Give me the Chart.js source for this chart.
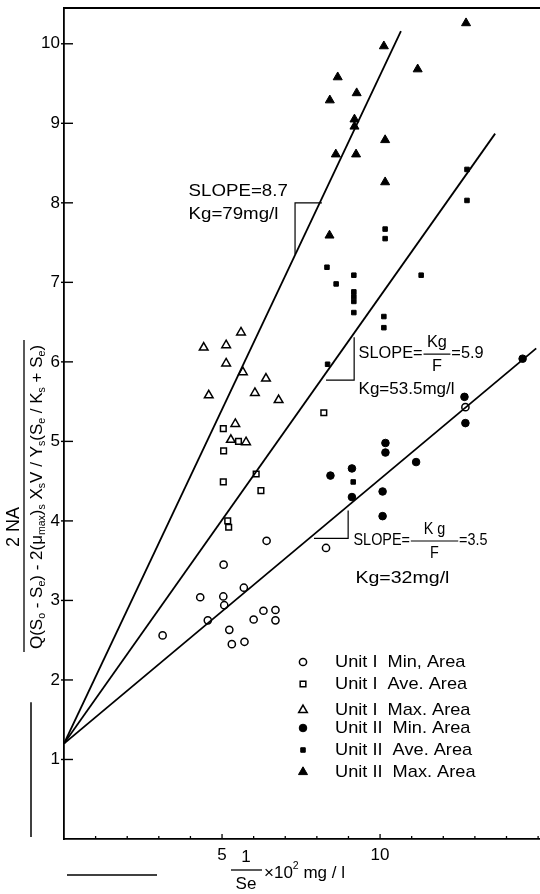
<!DOCTYPE html>
<html><head><meta charset="utf-8">
<script src="https://cdn.jsdelivr.net/npm/chart.js@4.4.1/dist/chart.umd.min.js"></script>
<style>html,body{margin:0;padding:0;background:#fff}#wrap{width:540px;height:894px;position:relative}</style>
</head><body><div id="wrap"><canvas id="c"></canvas></div>
<script>
// ---- data ----
const xTickLabels = [5, 10];
const yTickLabels = [1, 2, 3, 4, 5, 6, 7, 8, 9, 10];

const u1MinX = [6.41, 5.05, 5.69, 4.31, 5.04, 5.07, 6.31, 6.69, 6.00, 6.69, 4.55, 5.23, 5.71, 5.31, 3.12, 8.29, 12.70];
const u1MinY = [3.75, 3.45, 3.16, 3.04, 3.05, 2.94, 2.87, 2.88, 2.76, 2.75, 2.75, 2.63, 2.48, 2.45, 2.56, 3.66, 5.43];

const u1AveX = [5.04, 5.52, 5.05, 6.08, 5.04, 6.23, 5.18, 5.21, 8.22];
const u1AveY = [5.16, 5.00, 4.88, 4.59, 4.49, 4.38, 4.00, 3.92, 5.36];

const u1MaxX = [5.60, 4.42, 5.13, 5.13, 5.66, 6.39, 4.58, 6.04, 6.79, 5.42, 5.28, 5.76];
const u1MaxY = [6.37, 6.18, 6.21, 5.98, 5.87, 5.79, 5.58, 5.61, 5.52, 5.22, 5.02, 4.99];

const u2MinX = [12.67, 12.70, 10.17, 10.17, 11.14, 9.11, 8.43, 9.11, 10.08, 10.08, 14.51];
const u2MinY = [5.56, 5.23, 4.98, 4.86, 4.74, 4.66, 4.57, 4.30, 4.37, 4.06, 6.04];

const u2AveX = [8.32, 9.17, 8.61, 9.17, 9.17, 9.17, 9.17, 10.12, 10.12, 11.30, 8.34, 10.16, 10.16, 12.75, 12.75, 9.15];
const u2AveY = [7.19, 7.09, 6.98, 6.88, 6.82, 6.76, 6.62, 6.57, 6.43, 7.09, 5.97, 7.67, 7.55, 8.42, 8.03, 4.49];

const u2MaxX = [10.12, 8.66, 9.26, 8.41, 9.19, 9.19, 10.16, 8.60, 9.24, 10.16, 8.40, 11.19, 12.72];
const u2MaxY = [9.97, 9.58, 9.38, 9.29, 9.05, 8.96, 8.79, 8.61, 8.61, 8.26, 7.59, 9.68, 10.26];

const fitIntercept = 1.2;
const fitEndX = [10.66, 13.64, 14.94];
const fitEndY = [10.16, 8.87, 6.17];

const triX = [[8.16, 7.31, 7.31], [8.29, 9.18, 9.18], [7.91, 8.99, 8.99]];
const triY = [[8.00, 8.00, 7.35], [5.77, 5.77, 6.31], [3.78, 3.78, 4.13]];

const legendLabels = ['Unit I  Min, Area', 'Unit I  Ave. Area', 'Unit I  Max. Area',
                      'Unit II  Min. Area', 'Unit II  Ave. Area', 'Unit II  Max. Area'];

// ---- build ----
const FONT = '"Liberation Sans", "DejaVu Sans", Arial, sans-serif';
const pts = (xs, ys) => xs.map((x, i) => ({x, y: ys[i]}));

const seriesDefs = [
  {label: legendLabels[0], xs: u1MinX, ys: u1MinY, style: 'circle', filled: false, r: 3.6},
  {label: legendLabels[1], xs: u1AveX, ys: u1AveY, style: 'rect', filled: false, r: 4.0},
  {label: legendLabels[2], xs: u1MaxX, ys: u1MaxY, style: 'triangle', filled: false, r: 5.0},
  {label: legendLabels[3], xs: u2MinX, ys: u2MinY, style: 'circle', filled: true, r: 3.8},
  {label: legendLabels[4], xs: u2AveX, ys: u2AveY, style: 'rect', filled: true, r: 3.2},
  {label: legendLabels[5], xs: u2MaxX, ys: u2MaxY, style: 'triangle', filled: true, r: 5.2},
];

const datasets = [];
fitEndX.forEach((ex, i) => datasets.push({
  label: 'fit' + i, data: [{x: 0, y: fitIntercept}, {x: ex, y: fitEndY[i]}],
  showLine: true, borderColor: '#000', borderWidth: 1.8, pointRadius: 0, fill: false
}));
triX.forEach((tx, i) => datasets.push({
  label: 'tri' + i, data: pts(tx, triY[i]),
  showLine: true, borderColor: '#000', borderWidth: 1.2, pointRadius: 0, fill: false
}));
seriesDefs.forEach(s => datasets.push({
  label: s.label, data: pts(s.xs, s.ys), pointStyle: s.style,
  pointRadius: s.r, pointBorderWidth: s.filled ? 1 : 1.5,
  pointBackgroundColor: s.filled ? '#000' : 'rgba(255,255,255,0)',
  pointBorderColor: '#000', showLine: false
}));

function mark(ctx, style, filled, x, y, r) {
  ctx.beginPath();
  if (style === 'circle') ctx.arc(x, y, r, 0, Math.PI * 2);
  else if (style === 'rect') { const s = r * Math.SQRT1_2; ctx.rect(x - s, y - s, 2 * s, 2 * s); }
  else {
    let a = 0;
    for (let k = 0; k < 3; k++) {
      const px = x + Math.sin(a) * r, py = y - Math.cos(a) * r;
      k ? ctx.lineTo(px, py) : ctx.moveTo(px, py);
      a += Math.PI * 2 / 3;
    }
    ctx.closePath();
  }
  if (filled) { ctx.fillStyle = '#000'; ctx.fill(); }
  ctx.lineWidth = filled ? 1 : 1.5; ctx.strokeStyle = '#000'; ctx.stroke();
}

function line(ctx, x1, y1, x2, y2, w) {
  ctx.beginPath(); ctx.lineWidth = w; ctx.moveTo(x1, y1); ctx.lineTo(x2, y2); ctx.stroke();
}

function richWidth(ctx, segs, size) {
  let w = 0;
  segs.forEach(s => { ctx.font = ((s.sub || s.sup) ? size * 0.62 : size) + 'px ' + FONT; w += ctx.measureText(s.t).width; });
  return w;
}
function drawRich(ctx, segs, x, y, size) {
  let cx = x;
  ctx.textAlign = 'left'; ctx.textBaseline = 'middle';
  segs.forEach(s => {
    const sz = (s.sub || s.sup) ? size * 0.62 : size;
    ctx.font = sz + 'px ' + FONT;
    const dy = s.sub ? size * 0.32 : (s.sup ? -size * 0.38 : 0);
    ctx.fillText(s.t, cx, y + dy);
    cx += ctx.measureText(s.t).width;
  });
}

// "SLOPE = num/den = tail", squeezed horizontally into totalW pixels
function slopeFrac(ctx, x, y, num, den, barW, tail, size, totalW) {
  ctx.font = size + 'px ' + FONT;
  const w1 = ctx.measureText('SLOPE=').width, w3 = ctx.measureText(tail).width;
  const natural = w1 + 1 + barW + 1 + w3;
  const k = totalW ? totalW / natural : 1;
  ctx.save();
  ctx.translate(x, y); ctx.scale(k, 1);
  ctx.textAlign = 'left'; ctx.textBaseline = 'middle';
  ctx.fillText('SLOPE=', 0, 0);
  const bx = w1 + 1;
  ctx.textAlign = 'center';
  ctx.fillText(num, bx + barW / 2, -size * 0.62);
  ctx.fillText(den, bx + barW / 2, size * 0.78);
  line(ctx, bx, 1, bx + barW, 1, 1.2);
  ctx.textAlign = 'left';
  ctx.fillText(tail, bx + barW + 1, 0);
  ctx.restore();
}

const decor = {
  id: 'decor',
  afterDraw(chart) {
    const {ctx, chartArea: a, scales: {x, y}} = chart;
    ctx.save();
    ctx.strokeStyle = '#000'; ctx.fillStyle = '#000';
    line(ctx, a.left, a.top, a.right, a.top, 2);
    y.ticks.forEach(t => {
      if (t.value <= 0) return;
      const py = y.getPixelForValue(t.value);
      line(ctx, a.left - 3, py, a.left + 9, py, 1.4);
    });
    x.ticks.forEach(t => {
      if (t.value <= 0) return;
      const px = x.getPixelForValue(t.value);
      line(ctx, px, a.bottom, px, a.bottom - (xTickLabels.includes(t.value) ? 5 : 3), 1.3);
    });
    // scan marks
    line(ctx, a.left - 33, y.getPixelForValue(1.72), a.left - 33, a.bottom - 2, 1.5);
    line(ctx, a.left + 3, a.bottom + 36, a.left + 93, a.bottom + 36, 1.5);

    // annotations
    const X = v => x.getPixelForValue(v), Y = v => y.getPixelForValue(v);
    ctx.font = '17px ' + FONT; ctx.textAlign = 'left'; ctx.textBaseline = 'middle';
    ctx.save(); ctx.translate(X(3.94), Y(8.15)); ctx.scale(1.1, 1); ctx.fillText('SLOPE=8.7', 0, 0); ctx.restore();
    ctx.save(); ctx.translate(X(3.94), Y(7.85)); ctx.scale(1.1, 1); ctx.fillText('Kg=79mg/l', 0, 0); ctx.restore();
    slopeFrac(ctx, X(9.32), Y(6.11), 'Kg', 'F', 28, '=5.9', 17, 125);
    ctx.font = '17px ' + FONT; ctx.textAlign = 'left';
    ctx.fillText('Kg=53.5mg/l', X(9.32), Y(5.65));
    slopeFrac(ctx, X(9.16), Y(3.76), 'K g', 'F', 56, '=3.5', 17, 134);
    ctx.font = '17px ' + FONT; ctx.textAlign = 'left';
    ctx.save(); ctx.translate(X(9.22), Y(3.28)); ctx.scale(1.15, 1); ctx.fillText('Kg=32mg/l', 0, 0); ctx.restore();

    // legend
    const lx = a.left + 239, ly0 = a.bottom - 177;
    const rowOff = [0, 22, 48, 66, 88, 110];
    seriesDefs.forEach((s, i) => {
      const yy = ly0 + rowOff[i];
      mark(ctx, s.style, s.filled, lx, yy, s.r);
      ctx.fillStyle = '#000'; ctx.font = '17px ' + FONT; ctx.textAlign = 'left'; ctx.textBaseline = 'middle';
      ctx.save(); ctx.translate(lx + 32, yy); ctx.scale(1.07, 1); ctx.fillText(s.label, 0, 0); ctx.restore();
    });

    // y axis title (rotated fraction)
    ctx.save();
    ctx.rotate(-Math.PI / 2);
    ctx.fillStyle = '#000'; ctx.font = '18px ' + FONT; ctx.textAlign = 'center'; ctx.textBaseline = 'middle';
    ctx.fillText('2 NA', -527, 14);
    line(ctx, -652, 24, -340, 24, 1.3);
    const den = [
      {t: 'Q(S'}, {t: 'o', sub: 1}, {t: ' - S'}, {t: 'e', sub: 1}, {t: ') - 2(μ'}, {t: 'max', sub: 1}, {t: ')'},
      {t: 's', sub: 1}, {t: ' X'}, {t: 's', sub: 1}, {t: 'V / Y'}, {t: 's', sub: 1}, {t: '(S'}, {t: 'e', sub: 1},
      {t: ' / K'}, {t: 's', sub: 1}, {t: ' + S'}, {t: 'e', sub: 1}, {t: ')'}
    ];
    const dsz = 17, target = 306;
    const w = richWidth(ctx, den, dsz);
    const k = Math.min(1, target / w);
    ctx.save();
    ctx.translate(-497 - (w * k) / 2, 37);
    ctx.scale(k, 1);
    drawRich(ctx, den, 0, 0, dsz);
    ctx.restore();
    ctx.restore();

    // x axis title
    ctx.font = '17px ' + FONT; ctx.textAlign = 'center'; ctx.textBaseline = 'middle';
    ctx.fillText('1', 246, a.bottom + 18);
    line(ctx, 231, a.bottom + 31, 262, a.bottom + 31, 1.3);
    ctx.fillText('Se', 246, a.bottom + 45);
    drawRich(ctx, [{t: '×10'}, {t: '2', sup: 1}, {t: ' mg / l'}], 264, a.bottom + 34, 17);
    ctx.restore();
  }
};

function noPad(s) { s.paddingTop = 0; s.paddingBottom = 0; s.paddingLeft = 0; s.paddingRight = 0; }

new Chart(document.getElementById('c'), {
  type: 'scatter',
  data: {datasets},
  plugins: [decor],
  options: {
    responsive: true, maintainAspectRatio: false, animation: false,
    layout: {autoPadding: false, padding: {top: 8, right: 0, left: 0, bottom: 0}},
    plugins: {legend: {display: false}, tooltip: {enabled: false}},
    scales: {
      x: {
        type: 'linear', min: 0, max: 15.06,
        grid: {display: false, drawTicks: false},
        border: {display: true, color: '#000', width: 1.8},
        ticks: {stepSize: 1, includeBounds: false, autoSkip: false, maxRotation: 0, padding: 6,
          color: '#000', font: {size: 17, family: FONT},
          callback: v => xTickLabels.includes(v) ? String(v) : ''},
        afterFit: s => { s.height = 55; noPad(s); }
      },
      y: {
        type: 'linear', min: 0, max: 10.45,
        grid: {display: false, drawTicks: false},
        border: {display: true, color: '#000', width: 1.8},
        ticks: {stepSize: 1, includeBounds: false, autoSkip: false, padding: 4,
          color: '#000', font: {size: 17, family: FONT},
          callback: v => yTickLabels.includes(v) ? String(v) : ''},
        afterFit: s => { s.width = 64; noPad(s); }
      }
    }
  }
});
</script></body></html>
